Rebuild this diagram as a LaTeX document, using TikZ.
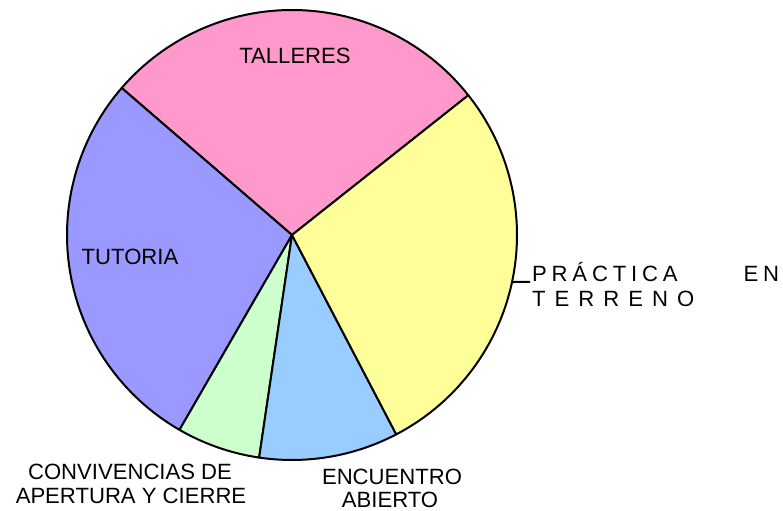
\documentclass[tikz,border=0pt]{standalone}
\usepackage{fontspec}
\setmainfont{Liberation Sans}
\usepackage{tikz}
\usetikzlibrary{calc}

\definecolor{rosa}{HTML}{FF99CC}
\definecolor{amarillo}{HTML}{FFFF99}
\definecolor{celeste}{HTML}{99CCFF}
\definecolor{verde}{HTML}{CCFFCC}
\definecolor{lila}{HTML}{9999FF}

\newcommand{\sepa}{\hspace{4.8bp}}
\newcommand{\sepb}{\hspace{9bp}}

\begin{document}
\begin{tikzpicture}[x=1bp,y=1bp,
    sector/.style={draw,line width=2bp,line join=round},
    label/.style={inner sep=0pt,font=\fontsize{22.1bp}{25bp}\selectfont}]
    \useasboundingbox (0,0) rectangle (783,511);
    \coordinate (c) at (292,276);
    \foreach \a/\b/\col in {38.4/139.2/rosa,139.2/240/lila,240/261.6/verde,261.6/297.6/celeste,297.6/398.4/amarillo}
        \draw[sector,fill=\col] (c) -- ++(\a:225) arc (\a:\b:225) -- cycle;
    \node[label,anchor=base] (tall) at (295,447) {TALLERES};
    \node[label,anchor=base] (tuto) at (130,246) {TUTORIA};
    \node[label,anchor=base] (conv1) at (130,31) {CONVIVENCIAS DE};
    \node[label,anchor=base] (conv2) at (131,7) {APERTURA Y CIERRE};
    \node[label,anchor=base] (enc1) at (392,26) {ENCUENTRO};
    \node[label,anchor=base] (enc2) at (390,3) {ABIERTO};
    \node[label,anchor=base west] (prac1) at (532,229) {P\sepa R\sepa Á\sepa C\sepa T\sepa I\sepa C\sepa A\hspace{66bp}E\sepa N};
    \node[label,anchor=base west] (prac2) at (532,204) {T\sepb E\sepb R\sepb R\sepb E\sepb N\sepb O};
    \coordinate (lead) at ($(c)+(-12.06:225)$);
    \draw[line width=2bp] (lead) -- ([xshift=-2bp]prac1.base west);
\end{tikzpicture}
\end{document}
